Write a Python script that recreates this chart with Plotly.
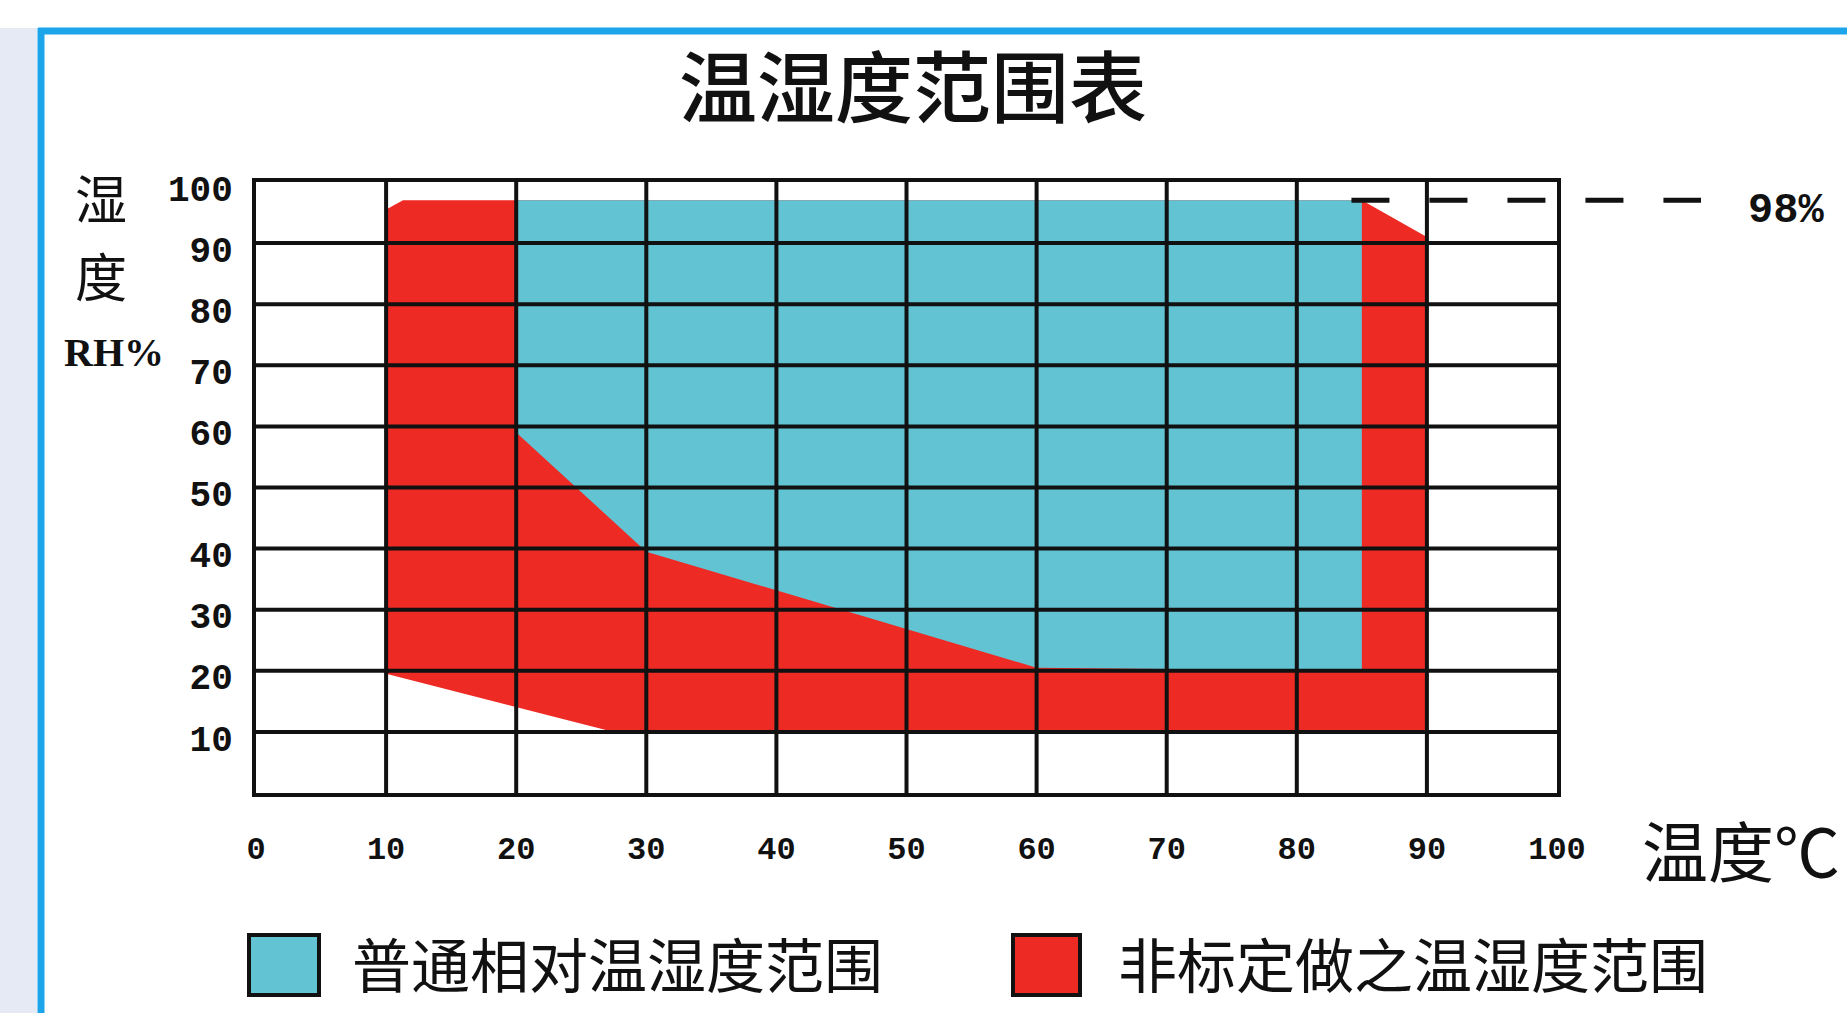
import plotly.graph_objects as go

# ---------------- data ----------------
temp_ticks = [0, 10, 20, 30, 40, 50, 60, 70, 80, 90, 100]
rh_ticks = [10, 20, 30, 40, 50, 60, 70, 80, 90, 100]
grid_temp = [10, 20, 30, 40, 50, 60, 70, 80, 90]
grid_rh = [10, 20, 30, 40, 50, 60, 70, 80, 90]

standard_name = "普通相对温湿度范围"
standard_temp = [20, 85, 85, 60, 30, 20]
standard_rh = [97, 97, 20, 20.5, 39.5, 59]

custom_name = "非标定做之温湿度范围"
custom_temp = [10, 11.3, 85, 90, 90, 27.5, 10]
custom_rh = [95.5, 97, 97, 91, 10, 10, 19.5]

limit_rh = 97
limit_label = "98%"
limit_start_temp = 84.2

title_text = "温湿度范围表"
x_title = "温度℃"
y_title_chars = ["湿", "度"]
y_title_unit = "RH%"

# ---------------- style ----------------
TEAL = "#62c3d2"
RED = "#ee2a25"
INK = "#111111"
FRAME = "#1ca5ea"
CJK = "Noto Sans CJK SC"
NUM = "Liberation Mono"

W, H = 1847, 1013
L, R, T, B = 256, 1557, 182, 793
X_RANGE = [0, 100]
Y_RANGE = [0, 100]


def px_x(p):
    return (p - L) / (R - L)


def px_y(p):
    return (B - p) / (B - T)


def dx(v):
    return (v - X_RANGE[0]) / (X_RANGE[1] - X_RANGE[0])


def dy(v):
    return (v - Y_RANGE[0]) / (Y_RANGE[1] - Y_RANGE[0])


fig = go.Figure()

# red (non-standard) region
fig.add_trace(go.Scatter(
    x=custom_temp + custom_temp[:1], y=custom_rh + custom_rh[:1],
    name=custom_name, mode="lines", fill="toself", fillcolor=RED,
    line=dict(width=0, color=RED), showlegend=False, hoverinfo="name"))

# teal (standard) region
fig.add_trace(go.Scatter(
    x=standard_temp + standard_temp[:1], y=standard_rh + standard_rh[:1],
    name=standard_name, mode="lines", fill="toself", fillcolor=TEAL,
    line=dict(width=0, color=TEAL), showlegend=False, hoverinfo="name"))

# grid lines drawn above the fills
gx, gy = [], []
for t in grid_temp:
    gx += [t, t, None]
    gy += [Y_RANGE[0], Y_RANGE[1], None]
for h in grid_rh:
    gx += [X_RANGE[0], X_RANGE[1], None]
    gy += [h, h, None]
fig.add_trace(go.Scatter(x=gx, y=gy, mode="lines",
                         line=dict(color=INK, width=4),
                         showlegend=False, hoverinfo="skip"))

shapes = []
# page decoration: left strip and blue frame
shapes.append(dict(type="rect", xref="paper", yref="paper",
                   x0=px_x(0), x1=px_x(37), y0=px_y(1013), y1=px_y(28),
                   fillcolor="#e6eaf4", line=dict(width=0), layer="below"))
shapes.append(dict(type="line", xref="paper", yref="paper",
                   x0=px_x(38), x1=px_x(1847), y0=px_y(31), y1=px_y(31),
                   line=dict(color=FRAME, width=7)))
shapes.append(dict(type="line", xref="paper", yref="paper",
                   x0=px_x(41), x1=px_x(41), y0=px_y(28), y1=px_y(1013),
                   line=dict(color=FRAME, width=7)))
# 98% dashed limit line (extends past the plot area)
shapes.append(dict(type="line", xref="paper", yref="paper",
                   x0=dx(limit_start_temp), x1=px_x(1701),
                   y0=dy(limit_rh), y1=dy(limit_rh),
                   line=dict(color=INK, width=5, dash="38px,40px")))
# legend swatches
shapes.append(dict(type="rect", xref="paper", yref="paper",
                   x0=px_x(249), x1=px_x(319), y0=px_y(995), y1=px_y(935),
                   fillcolor=TEAL, line=dict(color=INK, width=4)))
shapes.append(dict(type="rect", xref="paper", yref="paper",
                   x0=px_x(1013), x1=px_x(1080), y0=px_y(995), y1=px_y(935),
                   fillcolor=RED, line=dict(color=INK, width=4)))

annotations = [
    dict(text=limit_label, xref="paper", yref="paper", x=px_x(1786), y=px_y(211),
         xanchor="center", yanchor="middle", showarrow=False,
         font=dict(family=NUM, size=42, color=INK, weight="bold")),
    dict(text=x_title, xref="paper", yref="paper", x=px_x(1640), y=px_y(848),
         xanchor="left", yanchor="middle", showarrow=False,
         font=dict(family=CJK, size=66, color=INK)),
    dict(text=y_title_chars[0], xref="paper", yref="paper", x=px_x(101), y=px_y(197),
         xanchor="center", yanchor="middle", showarrow=False,
         font=dict(family=CJK, size=52, color=INK)),
    dict(text=y_title_chars[1], xref="paper", yref="paper", x=px_x(101), y=px_y(274),
         xanchor="center", yanchor="middle", showarrow=False,
         font=dict(family=CJK, size=52, color=INK)),
    dict(text=y_title_unit, xref="paper", yref="paper", x=px_x(114), y=px_y(352),
         xanchor="center", yanchor="middle", showarrow=False,
         font=dict(family="Liberation Serif", size=40, color=INK, weight="bold")),
    dict(text=standard_name, xref="paper", yref="paper", x=px_x(350), y=px_y(962),
         xanchor="left", yanchor="middle", showarrow=False,
         font=dict(family=CJK, size=59, color=INK)),
    dict(text=custom_name, xref="paper", yref="paper", x=px_x(1116), y=px_y(962),
         xanchor="left", yanchor="middle", showarrow=False,
         font=dict(family=CJK, size=59, color=INK)),
]

fig.update_layout(
    width=W, height=H,
    margin=dict(l=L, r=W - R, t=T, b=H - B, pad=0),
    paper_bgcolor="white", plot_bgcolor="white",
    showlegend=False,
    title=dict(text=title_text, x=913 / W, xanchor="center",
               y=1 - 90 / H, yanchor="middle", xref="container", yref="container",
               font=dict(family=CJK, size=78, color=INK, weight=500)),
    shapes=shapes,
    annotations=annotations,
    xaxis=dict(range=X_RANGE, tickvals=temp_ticks, ticktext=[str(v) for v in temp_ticks],
               showgrid=False, zeroline=False, showline=True, mirror=True,
               linecolor=INK, linewidth=4, ticks="", layer="above traces",
               ticklabelstandoff=24,
               tickfont=dict(family=NUM, size=32, color=INK, weight="bold")),
    yaxis=dict(range=Y_RANGE, tickvals=rh_ticks, ticktext=[str(v) for v in rh_ticks],
               showgrid=False, zeroline=False, showline=True, mirror=True,
               linecolor=INK, linewidth=4, ticks="", layer="above traces",
               ticklabelstandoff=12, ticklabelshift=6,
               tickfont=dict(family=NUM, size=36, color=INK, weight="bold")),
)

fig.write_html("out.html", config={"displayModeBar": False},
               post_script="document.body.style.margin='0';")
